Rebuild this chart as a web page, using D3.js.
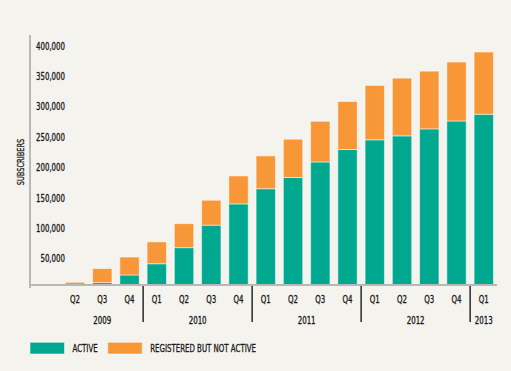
<!DOCTYPE html>
<html>
<head>
<meta charset="utf-8">
<script src="https://cdn.jsdelivr.net/npm/d3@7"></script>
<style>
  html, body { margin: 0; padding: 0; background: #f5f3ee; }
  svg { display: block; }
  text { font-family: "Liberation Sans Narrow", "DejaVu Sans Condensed", "Roboto Condensed", sans-serif; fill: #1a1a1a; stroke: #1a1a1a; stroke-width: 0.3px; }
</style>
</head>
<body>
<div id="chart"></div>
<script>
// quarters from 2009 Q2 to 2013 Q1
const periods = ['2009 Q2', '2009 Q3', '2009 Q4',
  '2010 Q1', '2010 Q2', '2010 Q3', '2010 Q4',
  '2011 Q1', '2011 Q2', '2011 Q3', '2011 Q4',
  '2012 Q1', '2012 Q2', '2012 Q3', '2012 Q4',
  '2013 Q1'];
const active = [500, 4000, 16500, 35000, 61500, 98500, 133500, 158500, 177000,
  202500, 223000, 239000, 245500, 257000, 270000, 281000];
const notActive = [4000, 23000, 29500, 36000, 39500, 41000, 46000, 54000, 63000,
  67000, 79000, 89500, 95000, 95000, 97000, 102500];
const years = ['2009', '2010', '2011', '2012', '2013'];
const yTicks = [50000, 100000, 150000, 200000, 250000, 300000, 350000, 400000];
const seriesNames = ['ACTIVE', 'REGISTERED BUT NOT ACTIVE'];
const colors = ['#00a88f', '#f79737'];

const width = 511, height = 371;
const base = 285;

const svg = d3.select('#chart')
  .append('svg')
  .attr('width', width)
  .attr('height', height);

const x = d3.scaleBand()
  .domain(periods)
  .range([61.4, 497.4])
  .paddingInner(0.29)
  .paddingOuter(0.145);

const y = d3.scaleLinear()
  .domain([0, 400000])
  .range([base, 42]);

// stacked bars
const rows = periods.map((p, i) => ({ period: p, a: active[i], n: notActive[i] }));
const stack = d3.stack().keys(['a', 'n'])(rows);

svg.append('g')
  .selectAll('g')
  .data(stack)
  .enter()
  .append('g')
  .attr('fill', (d, i) => colors[i])
  .selectAll('rect')
  .data(d => d)
  .enter()
  .append('rect')
  .attr('x', d => x(d.data.period))
  .attr('y', d => y(d[1]))
  .attr('width', x.bandwidth())
  .attr('height', d => y(d[0]) - y(d[1]))
  .attr('stroke', 'rgba(255,255,255,0.5)')
  .attr('stroke-width', 1);

// axes lines
svg.append('line')
  .attr('x1', 30).attr('x2', 30)
  .attr('y1', 35).attr('y2', base + 3)
  .attr('stroke', '#b8b8b6').attr('stroke-width', 2);
svg.append('line')
  .attr('x1', 30).attr('x2', 497)
  .attr('y1', base).attr('y2', base)
  .attr('stroke', '#b8b8b6').attr('stroke-width', 2);

// y tick labels
const yAxis = svg.append('g')
  .attr('transform', 'translate(69,4)')
  .call(d3.axisLeft(y).tickValues(yTicks).tickSize(0).tickPadding(4)
    .tickFormat(d3.format(',')));
yAxis.select('.domain').remove();
yAxis.selectAll('text')
  .attr('font-size', 10)
  .attr('fill', '#1a1a1a');

svg.append('text')
  .attr('transform', 'translate(24,' + 162 + ') rotate(-90)')
  .attr('text-anchor', 'middle')
  .attr('font-size', 9.5)
  .text('SUBSCRIBERS');

// quarter labels
const xAxis = svg.append('g')
  .attr('transform', 'translate(0,' + (base + 11) + ')')
  .call(d3.axisBottom(x).tickSize(0).tickPadding(0)
    .tickFormat(d => d.split(' ')[1]));
xAxis.select('.domain').remove();
xAxis.selectAll('text')
  .attr('font-size', 10)
  .attr('fill', '#1a1a1a');

// year labels and separators
years.forEach(yr => {
  const ps = periods.filter(p => p.startsWith(yr));
  const x0 = x(ps[0]) - x.step() * x.paddingInner() / 2;
  const x1 = x(ps[ps.length - 1]) + x.bandwidth() + x.step() * x.paddingInner() / 2;
  svg.append('text')
    .attr('x', (x0 + x1) / 2)
    .attr('y', 323.5)
    .attr('text-anchor', 'middle')
    .attr('font-size', 10)
    .text(yr);
  if (yr !== years[0]) {
    svg.append('line')
      .attr('x1', x0).attr('x2', x0)
      .attr('y1', base + 1).attr('y2', 322)
      .attr('stroke', '#2a2a2a').attr('stroke-width', 1.5);
  }
});

// legend
const legendX = [30, 107.7];
seriesNames.forEach((name, i) => {
  svg.append('rect')
    .attr('x', legendX[i]).attr('y', 342.3)
    .attr('width', 34.5).attr('height', 11.7)
    .attr('fill', colors[i])
    .attr('stroke', 'rgba(255,255,255,0.5)');
  svg.append('text')
    .attr('x', legendX[i] + 42.5)
    .attr('y', 351.5)
    .attr('font-size', 10)
    .text(name);
});

// narrow the condensed font to look like the original narrow face
svg.selectAll('text').each(function() {
  const w = this.getComputedTextLength();
  this.setAttribute('textLength', (w * 0.78).toFixed(1));
  this.setAttribute('lengthAdjust', 'spacingAndGlyphs');
});
</script>
</body>
</html>
